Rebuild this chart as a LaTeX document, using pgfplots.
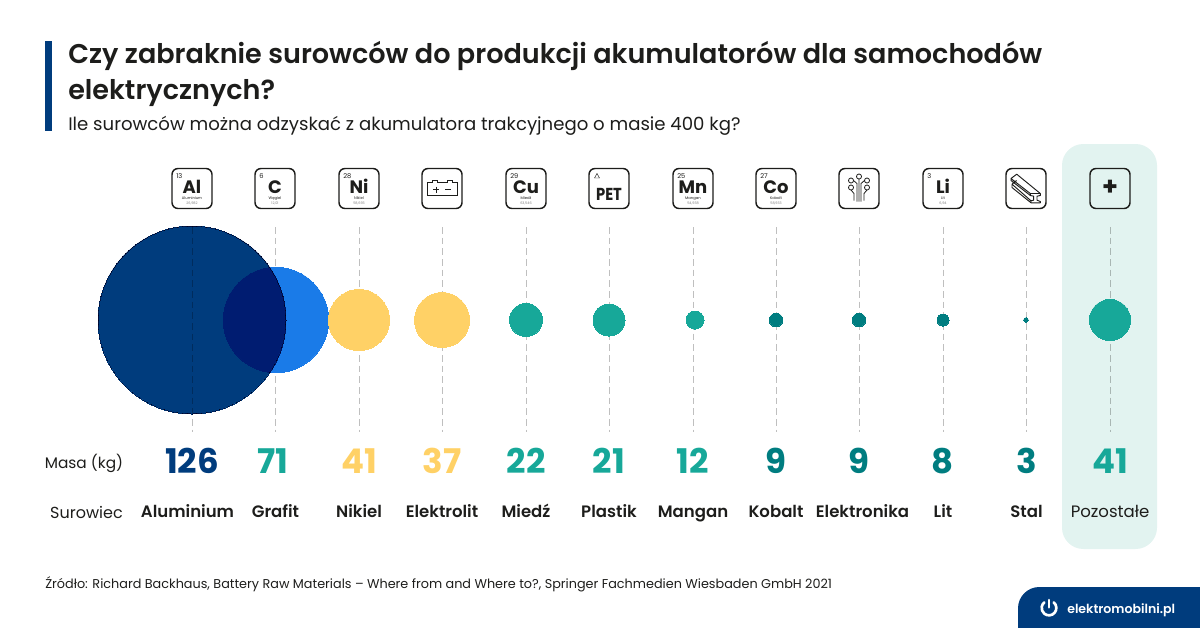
\documentclass[border=0pt]{standalone}
\usepackage{pgfplots}
\pgfplotsset{compat=1.18}
\usepackage{fontspec}
\setmainfont{Poppins}
\newfontfamily\semib{Poppins SemiBold}
\definecolor{navy}{HTML}{003C7D}
\definecolor{blue1}{HTML}{1A7BE8}
\definecolor{yell}{HTML}{FFD166}
\definecolor{teal1}{HTML}{17A899}
\definecolor{teal2}{HTML}{007D80}
\definecolor{panel}{HTML}{E2F3F0}
\definecolor{ink}{HTML}{1D1D1B}
\newcommand{\fs}[1]{\fontsize{#1}{#1}\selectfont}
% x, radius in px, colour
\newcommand{\bubble}[3]{\addplot[only marks,color=#3,mark=*,mark size=#2*0.75pt,mark options={line width=0pt,fill=#3}] coordinates {(#1,320)};}
\newcommand{\guide}[1]{\addplot[gray!50,line width=0.5pt,dash pattern=on 5pt off 3pt,blend mode=multiply] coordinates {(#1,227) (#1,432)};}
\newcommand{\mass}[3]{\node[text=#3,font=\fs{25.5}\bfseries,anchor=base] at (axis cs:#1,473) {#2};}
\newcommand{\name}[2]{\node[text=ink,font=\fs{12.4}\semib,anchor=base] at (axis cs:#1,517) {#2};}
\newcommand{\tile}[2][white]{\node[draw=ink,fill=#1,line width=1.1pt,rounded corners=4.5pt,minimum size=30pt,inner sep=0pt] at (axis cs:#2,188.5) {};}
\newcommand{\element}[5]{%
  \tile{#1}
  \node[text=ink,font=\fs{5},anchor=base west,inner sep=0pt] at (axis cs:#1-16,178) {#2};
  \node[text=ink,font=\fs{13.5}\bfseries,anchor=base,inner sep=0pt,text height=9pt,text depth=0pt] at (axis cs:#1,193.5) {#3};
  \node[text=ink,font=\fs{2.8},anchor=base,inner sep=0pt,text height=2pt,text depth=0.5pt] at (axis cs:#1,199) {#4};
  \node[text=gray,font=\fs{2.6},anchor=base,inner sep=0pt,text height=2pt,text depth=0.5pt] at (axis cs:#1,204) {#5};
}
\begin{document}
\begin{tikzpicture}
\begin{axis}[
    width=900pt,height=471pt,scale only axis,
    xmin=0,xmax=1200,ymin=0,ymax=628,y dir=reverse,
    axis lines=none,clip=false,
]
\path (axis cs:0,0) rectangle (axis cs:1200,628);
% panel behind last column
\fill[panel,rounded corners=16pt] (axis cs:1062,144) rectangle (axis cs:1157,549);
% title block
\fill[navy] (axis cs:45,41) rectangle (axis cs:52,131);
\node[text=ink,font=\fs{20.3}\semib,anchor=base west,inner sep=0pt] at (axis cs:68,63) {Czy zabraknie surowców do produkcji akumulatorów dla samochodów};
\node[text=ink,font=\fs{20.3}\semib,anchor=base west,inner sep=0pt] at (axis cs:68,99) {elektrycznych?};
\node[text=ink,font=\fs{13.58},anchor=base west,inner sep=0pt] at (axis cs:68,130) {Ile surowców można odzyskać z akumulatora trakcyjnego o masie 400 kg?};

% bubbles
\bubble{276}{52.7}{blue1}
\addplot[only marks,color=navy,mark=*,mark size=94*0.75pt,mark options={line width=0pt,fill=navy,blend mode=multiply}] coordinates {(192,320)};
\bubble{359}{30.5}{yell}
\bubble{442}{27.5}{yell}
\bubble{526}{16.5}{teal1}
\bubble{609}{16}{teal1}
\bubble{695}{9}{teal1}
\bubble{776}{6.8}{teal2}
\bubble{859}{6.8}{teal2}
\bubble{943}{6}{teal2}
\bubble{1026}{2.4}{teal2}
\bubble{1110}{20.5}{teal1}

\guide{192}\guide{275}\guide{359}\guide{442}\guide{526}\guide{609}\guide{693}\guide{776}\guide{859}\guide{943}\guide{1026}\guide{1110}

% icons
\element{192}{13}{Al}{Aluminium}{26,982}
\element{275}{6}{C}{Węgiel}{12,01}
\element{359}{28}{Ni}{Nikiel}{58,693}
\tile{442}
\draw[ink,line width=0.7pt,shift={(axis cs:442,188.5)},x=0.75pt,y=-0.75pt]
  (-15,7) -- (-15,-6) -- (-10,-6) -- (-10,-8) -- (-5,-8) -- (-5,-6) -- (5,-6) -- (5,-8) -- (10,-8) -- (10,-6) -- (15,-6) -- (15,7) -- cycle
  (-9,1) -- (-3,1) (-6,-2) -- (-6,4) (3,1) -- (9,1);
\element{526}{29}{Cu}{Miedź}{63,546}
\tile{609}
\node[text=ink,font=\fs{13}\bfseries\addfontfeature{FakeStretch=0.85},anchor=base] at (axis cs:609,200) {PET};
\draw[ink,line width=0.35pt,shift={(axis cs:597,176)},x=0.75pt,y=-0.75pt] (-2.5,2) -- (0,-2.5) -- (2.5,2) -- cycle;
\element{693}{25}{Mn}{Mangan}{54,938}
\element{776}{27}{Co}{Kobalt}{58,933}
\tile{859}
\begin{scope}[shift={(axis cs:859,188.5)},x=0.75pt,y=-0.75pt]
\draw[ink,line width=0.6pt]
  (0,-12) circle[radius=1.9pt] (-8,-8) circle[radius=1.9pt] (8,-8) circle[radius=1.9pt] (-8,-1) circle[radius=1.9pt] (8,-1) circle[radius=1.9pt]
  (0,-9.5) -- (0,13) (-5.5,-8) -- (-2,-5) -- (-2,13) (5.5,-8) -- (2,-5) -- (2,13)
  (-8,1.5) -- (-5,5) -- (-5,12) (8,1.5) -- (5,5) -- (5,12);
\end{scope}
\element{943}{3}{Li}{Lit}{6,94}
\tile{1026}
\begin{scope}[shift={(axis cs:1026,188.5)},x=0.75pt,y=-0.75pt]
\draw[ink,line width=0.7pt,line join=round]
  (4.3,5) -- (14.3,5) -- (14.3,7) -- (11,7.7) -- (11,11.7) -- (14.3,13) -- (14.3,14.3) -- (5,14.3) -- (5,12.3) -- (7.7,11.7) -- (7.7,7.7) -- (4.3,7) -- cycle
  (14.3,5) -- (-9.3,-14.3) -- (-15,-10) -- (4.3,5)
  (-15,-10) -- (-15,-8) -- (4.3,7)
  (-14,-4.3) -- (5,12.3) (-14,-4.3) -- (-14,-1) -- (5,14.3) (-14,-4.3) -- (-9.5,-8);
\end{scope}
\tile[panel]{1110}
\node[text=ink,font=\fs{19}\bfseries,anchor=center] at (axis cs:1110,188) {+};

% values and names
\node[text=ink,font=\fs{11.5},anchor=base] at (axis cs:84,468) {Masa (kg)};
\node[text=ink,font=\fs{12},anchor=base] at (axis cs:86.5,518) {Surowiec};
\mass{192}{126}{navy} \name{187.5}{Aluminium}
\mass{273}{71}{teal1} \name{275.5}{Grafit}
\mass{359}{41}{yell} \name{359}{Nikiel}
\mass{442}{37}{yell} \name{442}{Elektrolit}
\mass{526}{22}{teal1} \name{526}{Miedź}
\mass{609}{21}{teal1} \name{609}{Plastik}
\mass{693}{12}{teal1} \name{693}{Mangan}
\mass{776}{9}{teal2} \name{776}{Kobalt}
\mass{859}{9}{teal2} \name{862.5}{Elektronika}
\mass{943}{8}{teal2} \name{943}{Lit}
\mass{1027}{3}{teal2} \name{1026.5}{Stal}
\mass{1110}{41}{teal1}
\node[text=ink,font=\fs{12.4},anchor=base] at (axis cs:1110,517) {Pozostałe};

% source and footer logo
\node[text=ink,font=\fs{9.6},anchor=base west,inner sep=0pt] at (axis cs:45,588) {Źródło: Richard Backhaus, Battery Raw Materials – Where from and Where to?, Springer Fachmedien Wiesbaden GmbH 2021};
\fill[navy] (axis cs:1018,628) [rounded corners=16pt] -- (axis cs:1018,587) [sharp corners] -- (axis cs:1200,587) -- (axis cs:1200,628) -- cycle;
\begin{scope}[shift={(axis cs:1049,608)}]
\draw[white,line width=2pt,line cap=round] (50:5.5pt) arc[start angle=50,end angle=-230,radius=5.5pt];
\draw[white,line width=2pt,line cap=round] (0,6pt) -- (0,0.5pt);
\end{scope}
\node[text=white,font=\fs{9.4}\semib,anchor=base west,inner sep=0pt] at (axis cs:1067,613) {elektromobilni.pl};
\end{axis}
\end{tikzpicture}
\end{document}
